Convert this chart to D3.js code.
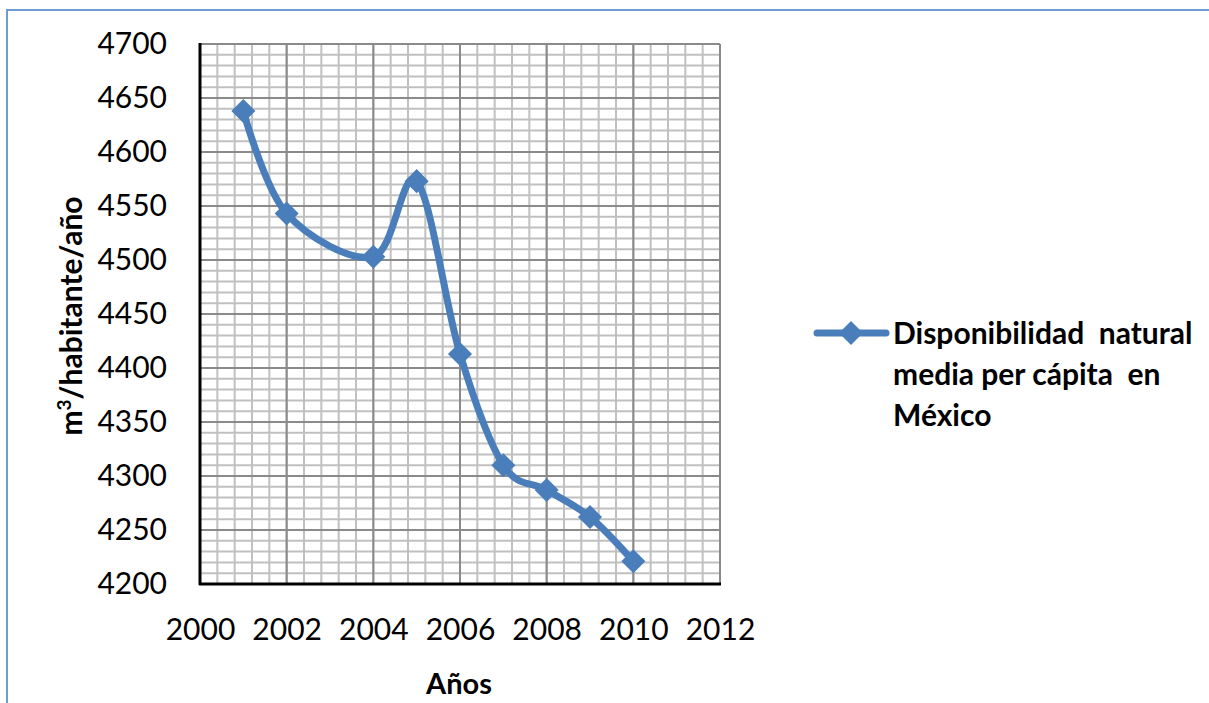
<!DOCTYPE html>
<html><head><meta charset="utf-8">
<script src="https://cdn.jsdelivr.net/npm/d3@7"></script>
<style>
html,body{margin:0;padding:0;background:#fff;}
svg{display:block;}
text{font-family:Lato,"Open Sans",sans-serif;}
</style></head>
<body>
<script>
const years = [2001, 2002, 2004, 2005, 2006, 2007, 2008, 2009, 2010];
const values = [4638, 4543, 4503, 4573, 4413, 4310, 4287, 4262, 4221];
const yTicks = [4200, 4250, 4300, 4350, 4400, 4450, 4500, 4550, 4600, 4650, 4700];
const xTicks = [2000, 2002, 2004, 2006, 2008, 2010, 2012];
const seriesName = ["Disponibilidad  natural", "media per cápita  en", "México"];
const xTitle = "Años";

const W = 1209, H = 703;
const svg = d3.select("body").append("svg").attr("width", W).attr("height", H);

// outer frame
svg.append("rect").attr("x", 7).attr("y", 10).attr("width", 1300).attr("height", 900)
  .attr("fill", "none").attr("stroke", "#6f9bd3").attr("stroke-width", 2);

const L = 200, R = 720, T = 44, B = 584;
const x = d3.scaleLinear().domain([2000, 2012]).range([L, R]);
const y = d3.scaleLinear().domain([4200, 4700]).range([B, T]);

// minor grid
const minorX = d3.range(0, 31).map(i => 2000 + i * 0.4);
const minorY = d3.range(0, 51).map(i => 4200 + i * 10);
const g = svg.append("g");
g.selectAll(".mx").data(minorX).enter().append("line")
  .attr("x1", d => x(d)).attr("x2", d => x(d)).attr("y1", T).attr("y2", B)
  .attr("stroke", "#c0c0c0").attr("stroke-width", 2);
g.selectAll(".my").data(minorY).enter().append("line")
  .attr("x1", L).attr("x2", R).attr("y1", d => y(d)).attr("y2", d => y(d))
  .attr("stroke", "#c0c0c0").attr("stroke-width", 2);
// major grid
g.selectAll(".Mx").data(xTicks).enter().append("line")
  .attr("x1", d => x(d)).attr("x2", d => x(d)).attr("y1", T).attr("y2", B)
  .attr("stroke", "#8a8a8a").attr("stroke-width", 2);
g.selectAll(".My").data(yTicks).enter().append("line")
  .attr("x1", L).attr("x2", R).attr("y1", d => y(d)).attr("y2", d => y(d))
  .attr("stroke", "#8a8a8a").attr("stroke-width", 2);

// axes
const yAxis = svg.append("g").attr("transform", `translate(${L},0)`)
  .call(d3.axisLeft(y).tickValues(yTicks).tickSize(0).tickPadding(33).tickFormat(d3.format("d")));
const xAxis = svg.append("g").attr("transform", `translate(0,${B})`)
  .call(d3.axisBottom(x).tickValues(xTicks).tickSize(0).tickPadding(35).tickFormat(d3.format("d")));
[yAxis, xAxis].forEach(a => {
  a.select(".domain").remove();
  a.selectAll("text").attr("font-family", "Lato, sans-serif").attr("font-size", 30).attr("fill", "#000");
});
svg.append("line").attr("x1", L).attr("x2", L).attr("y1", T - 1).attr("y2", B + 1)
  .attr("stroke", "#000").attr("stroke-width", 3);
svg.append("line").attr("x1", L - 1).attr("x2", R + 1).attr("y1", B).attr("y2", B)
  .attr("stroke", "#000").attr("stroke-width", 3);

// series
const color = "#4a7ebb";
const pts = years.map((yr, i) => [yr, values[i]]);
const line = d3.line().x(d => x(d[0])).y(d => y(d[1])).curve(d3.curveCatmullRom.alpha(0));
svg.append("path").datum(pts).attr("d", line).attr("fill", "none")
  .attr("stroke", color).attr("stroke-width", 7).attr("stroke-linejoin", "round").attr("stroke-linecap", "round");
const marker = d3.symbol().type(d3.symbolSquare).size(290);
svg.selectAll(".pt").data(pts).enter().append("path")
  .attr("d", marker).attr("transform", d => `translate(${x(d[0])},${y(d[1])}) rotate(45)`)
  .attr("fill", color);

// titles
svg.append("text").attr("x", 459).attr("y", 694).attr("text-anchor", "middle")
  .attr("font-size", 29).attr("font-weight", "bold").text(xTitle);
const yt = svg.append("text").attr("transform", "translate(82,316) rotate(-90)").attr("text-anchor", "middle")
  .attr("font-size", 30).attr("font-weight", "bold");
yt.append("tspan").text("m");
yt.append("tspan").attr("font-size", 19).attr("dy", -11).text("3");
yt.append("tspan").attr("dy", 11).text("/habitante/año");

// legend
svg.append("line").attr("x1", 817).attr("x2", 886).attr("y1", 333).attr("y2", 333)
  .attr("stroke", color).attr("stroke-width", 7).attr("stroke-linecap", "round");
svg.append("path").attr("d", marker)
  .attr("transform", "translate(851,333) rotate(45)").attr("fill", color);
svg.selectAll(".lg").data(seriesName).enter().append("text")
  .attr("x", 893).attr("y", (d, i) => 344 + i * 41)
  .attr("font-size", 30).attr("font-weight", "bold").attr("fill", "#000")
  .style("white-space", "pre").text(d => d);
</script>
</body></html>
